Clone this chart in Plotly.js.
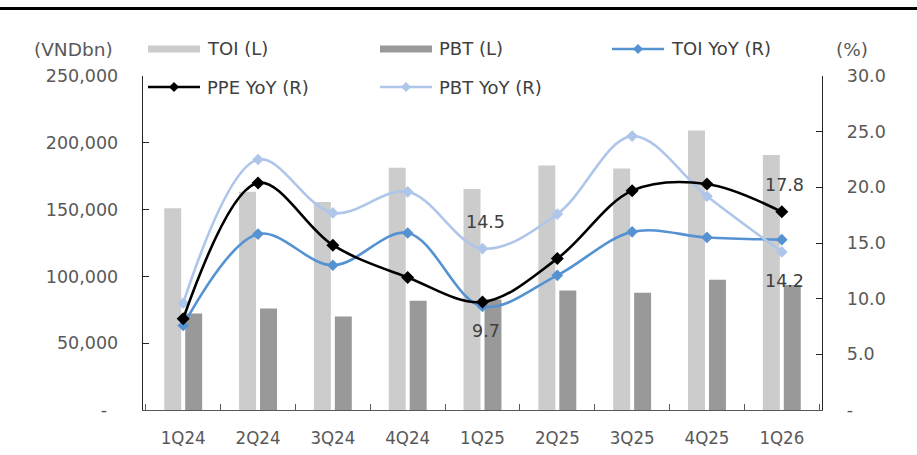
<!DOCTYPE html>
<html>
<head>
<meta charset="utf-8">
<script src="https://cdn.plot.ly/plotly-3.0.1.min.js"></script>
<style>html,body{margin:0;padding:0;background:#fff;}#chart{width:917px;height:455px;}</style>
</head>
<body>
<div id="chart"></div>
<script>
// ---- data ----
const categories = ['1Q24', '2Q24', '3Q24', '4Q24', '1Q25', '2Q25', '3Q25', '4Q25', '1Q26'];
const toi = [151000, 163400, 155700, 181300, 165400, 183100, 180800, 209200, 190800];
const pbt = [72300, 76000, 70000, 81700, 82700, 89400, 87700, 97400, 93500];
const toiYoY = [7.6, 15.8, 13.0, 15.9, 9.3, 12.1, 16.0, 15.5, 15.3];
const ppeYoY = [8.2, 20.4, 14.8, 11.9, 9.7, 13.6, 19.7, 20.3, 17.8];
const pbtYoY = [9.6, 22.5, 17.7, 19.6, 14.5, 17.6, 24.6, 19.2, 14.2];
const seriesNames = ['TOI (L)', 'PBT (L)', 'TOI YoY (R)', 'PPE YoY (R)', 'PBT YoY (R)'];
const leftTickVals = [0, 50000, 100000, 150000, 200000, 250000];
const leftTickText = ['-\u00a0\u00a0', '50,000', '100,000', '150,000', '200,000', '250,000'];
const rightTickVals = [0, 5, 10, 15, 20, 25, 30];
const rightTickText = ['-', '5.0', '10.0', '15.0', '20.0', '25.0', '30.0'];
const leftUnit = '(VNDbn)';
const rightUnit = '(%)';
// labelled points: [series, index, above?]
const labelSpecs = [['pbtYoY', 4, true], ['ppeYoY', 4, false], ['ppeYoY', 8, true], ['pbtYoY', 8, false]];

// ---- styling ----
const FONT = '"DejaVu Sans", Verdana, sans-serif';
const NARROW = '"DejaVu Sans Condensed", "Liberation Sans Narrow", "DejaVu Sans", sans-serif';
const C = { toi: '#cccccc', pbt: '#999999', toiYoY: '#5592d2', ppeYoY: '#000000', pbtYoY: '#aec6ea' };
const W = 917, H = 455, L = 143, R = 822, T = 76, B = 410;
const px = x => (x - L) / (R - L);
const py = y => (B - y) / (B - T);

const lineTrace = (name, y, color, msize) => ({
  type: 'scatter', mode: 'lines+markers', name: name, x: categories, y: y, yaxis: 'y2',
  line: { color: color, width: 2.6, shape: 'spline', smoothing: 1 },
  marker: { symbol: 'diamond', size: msize, color: color },
  showlegend: false, hoverinfo: 'x+y+name'
});

const data = [
  { type: 'bar', name: seriesNames[0], x: categories, y: toi, marker: { color: C.toi }, showlegend: false },
  { type: 'bar', name: seriesNames[1], x: categories, y: pbt, marker: { color: C.pbt }, showlegend: false },
  lineTrace(seriesNames[2], toiYoY, C.toiYoY, 9),
  lineTrace(seriesNames[4], pbtYoY, C.pbtYoY, 9),
  lineTrace(seriesNames[3], ppeYoY, C.ppeYoY, 10)
];

const seriesMap = { toiYoY: toiYoY, ppeYoY: ppeYoY, pbtYoY: pbtYoY };
const annotations = labelSpecs.map(s => ({
  xref: 'x', yref: 'y2', x: categories[s[1]], y: seriesMap[s[0]][s[1]],
  text: seriesMap[s[0]][s[1]].toFixed(1), showarrow: false,
  yshift: s[2] ? 27 : -29, xshift: 3,
  font: { family: FONT, size: 17.5, color: '#404040' }
}));

// custom legend (wide swatches as in the original)
const legendDefs = [
  { name: seriesNames[0], kind: 'bar', color: C.toi, x: 148, y: 49 },
  { name: seriesNames[1], kind: 'bar', color: C.pbt, x: 380, y: 49 },
  { name: seriesNames[2], kind: 'line', color: C.toiYoY, x: 612, y: 49 },
  { name: seriesNames[3], kind: 'line', color: C.ppeYoY, x: 148, y: 87 },
  { name: seriesNames[4], kind: 'line', color: C.pbtYoY, x: 380, y: 87 }
];
const shapes = [
  { type: 'line', xref: 'paper', yref: 'paper', x0: px(0), x1: px(W), y0: py(8.5), y1: py(8.5),
    line: { color: '#000', width: 3 } }
];
legendDefs.forEach(d => {
  if (d.kind === 'bar') {
    shapes.push({ type: 'rect', xref: 'paper', yref: 'paper', x0: px(d.x), x1: px(d.x + 52),
      y0: py(d.y - 3.5), y1: py(d.y + 3.5), fillcolor: d.color, line: { width: 0 } });
  } else {
    shapes.push({ type: 'line', xref: 'paper', yref: 'paper', x0: px(d.x), x1: px(d.x + 52),
      y0: py(d.y), y1: py(d.y), line: { color: d.color, width: 2.6 } });
    shapes.push({ type: 'path', xref: 'paper', yref: 'paper', xsizemode: 'pixel', ysizemode: 'pixel',
      xanchor: px(d.x + 26), yanchor: py(d.y), path: 'M0,5L5,0L0,-5L-5,0Z',
      fillcolor: d.color, line: { color: d.color, width: 0 } });
  }
  annotations.push({ xref: 'paper', yref: 'paper', x: px(d.x + 57), y: py(d.y), xanchor: 'left', yanchor: 'middle',
    text: d.name, showarrow: false, font: { family: FONT, size: 18, color: '#404040' } });
});
annotations.push({ xref: 'paper', yref: 'paper', x: px(73), y: py(50), xanchor: 'center', yanchor: 'middle',
  text: leftUnit, showarrow: false, font: { family: FONT, size: 18.5, color: '#595959' } });
annotations.push({ xref: 'paper', yref: 'paper', x: px(852), y: py(50), xanchor: 'center', yanchor: 'middle',
  text: rightUnit, showarrow: false, font: { family: FONT, size: 18.5, color: '#595959' } });

const axisCommon = {
  showgrid: false, zeroline: false, showline: true, ticks: 'inside', ticklen: 6, fixedrange: true
};

const layout = {
  width: W, height: H,
  margin: { l: L, r: W - R, t: T, b: H - B, pad: 0 },
  paper_bgcolor: '#ffffff', plot_bgcolor: '#ffffff',
  font: { family: FONT, size: 17.5, color: '#595959' },
  barmode: 'group', bargap: 0.44, bargroupgap: 0.19,
  showlegend: false,
  xaxis: Object.assign({}, axisCommon, {
    type: 'category', tickson: 'boundaries', linecolor: '#595959', tickcolor: '#595959',
    linewidth: 1.3, ticklabelstandoff: 10,
    tickfont: { family: NARROW, size: 18.5, color: '#595959' }
  }),
  yaxis: Object.assign({}, axisCommon, {
    range: [0, 250000], tickvals: leftTickVals, ticktext: leftTickText,
    linecolor: '#262626', tickcolor: '#262626', linewidth: 1.3, ticklabelstandoff: 20
  }),
  yaxis2: Object.assign({}, axisCommon, {
    overlaying: 'y', side: 'right', range: [0, 30], tickvals: rightTickVals, ticktext: rightTickText,
    linecolor: '#262626', tickcolor: '#262626', linewidth: 1.3, ticklabelstandoff: 20
  }),
  shapes: shapes,
  annotations: annotations
};

Plotly.newPlot('chart', data, layout, { staticPlot: true, displayModeBar: false });
</script>
</body>
</html>
